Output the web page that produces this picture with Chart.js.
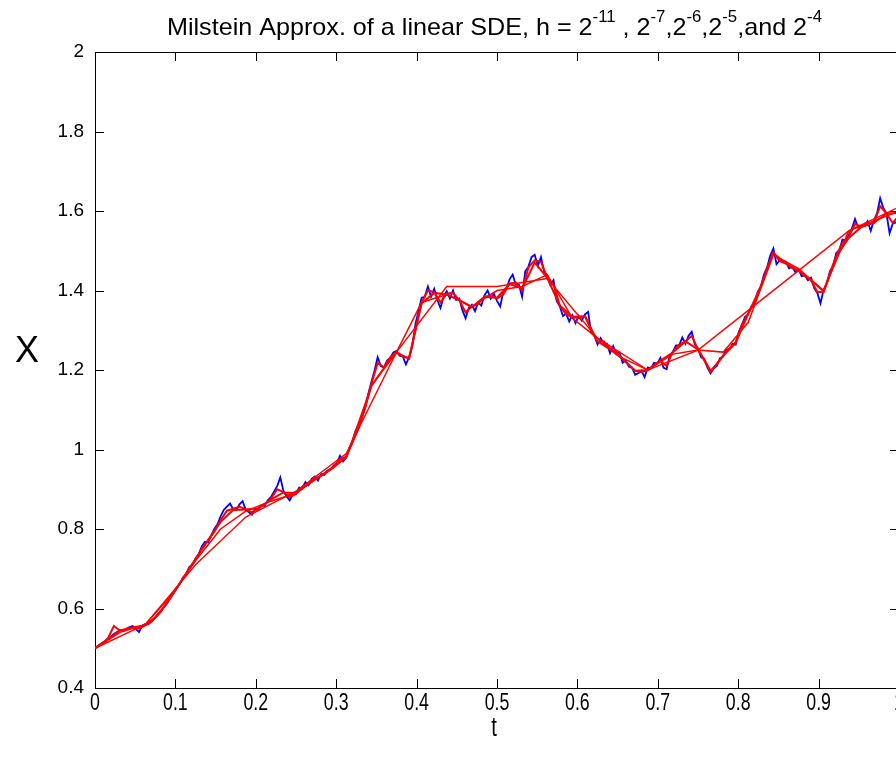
<!DOCTYPE html>
<html>
<head>
<meta charset="utf-8">
<script src="https://cdn.jsdelivr.net/npm/chart.js@4.4.1/dist/chart.umd.min.js"></script>
<style>
  html, body { margin: 0; padding: 0; overflow: hidden; background: #fff; }
  #wrap { width: 920px; height: 758px; }
</style>
</head>
<body>
<div id="wrap"><canvas id="myChart" width="920" height="758"></canvas></div>
<script>
// time steps of the five paths
const stepFine = 1 / 256;
const step7 = 1 / 128;
const step6 = 1 / 64;
const step5 = 1 / 32;
const step4 = 1 / 16;

// finest path (blue)
const fineVals = [
  0.500, 0.506, 0.512, 0.516, 0.524, 0.529, 0.536, 0.541, 0.546, 0.543,
  0.549, 0.553, 0.556, 0.548, 0.541, 0.556, 0.561, 0.560, 0.568, 0.575,
  0.586, 0.592, 0.605, 0.613, 0.630, 0.640, 0.652, 0.662, 0.678, 0.686,
  0.704, 0.710, 0.726, 0.736, 0.756, 0.768, 0.766, 0.784, 0.800, 0.812,
  0.832, 0.848, 0.856, 0.864, 0.850, 0.848, 0.862, 0.870, 0.848, 0.842,
  0.836, 0.850, 0.848, 0.860, 0.858, 0.872, 0.880, 0.894, 0.908, 0.930,
  0.896, 0.882, 0.872, 0.886, 0.888, 0.904, 0.902, 0.918, 0.910, 0.926,
  0.932, 0.922, 0.938, 0.936, 0.947, 0.950, 0.960, 0.966, 0.984, 0.970,
  0.980, 1.004, 1.020, 1.048, 1.058, 1.082, 1.106, 1.140, 1.170, 1.198,
  1.232, 1.210, 1.206, 1.224, 1.230, 1.244, 1.248, 1.236, 1.234, 1.214,
  1.232, 1.258, 1.314, 1.348, 1.382, 1.384, 1.410, 1.384, 1.404, 1.376,
  1.356, 1.384, 1.398, 1.380, 1.400, 1.376, 1.380, 1.350, 1.330, 1.356,
  1.364, 1.348, 1.370, 1.362, 1.388, 1.400, 1.380, 1.392, 1.374, 1.360,
  1.396, 1.404, 1.428, 1.440, 1.414, 1.414, 1.384, 1.448, 1.460, 1.484,
  1.490, 1.462, 1.484, 1.448, 1.438, 1.414, 1.426, 1.374, 1.360, 1.336,
  1.342, 1.322, 1.338, 1.318, 1.336, 1.324, 1.340, 1.346, 1.294, 1.286,
  1.264, 1.280, 1.266, 1.266, 1.242, 1.260, 1.240, 1.244, 1.218, 1.224,
  1.208, 1.206, 1.188, 1.192, 1.198, 1.182, 1.206, 1.204, 1.218, 1.216,
  1.230, 1.206, 1.202, 1.236, 1.246, 1.262, 1.262, 1.282, 1.266, 1.286,
  1.296, 1.264, 1.254, 1.232, 1.228, 1.206, 1.192, 1.204, 1.210, 1.230,
  1.234, 1.252, 1.252, 1.266, 1.264, 1.296, 1.314, 1.334, 1.340, 1.360,
  1.368, 1.396, 1.410, 1.440, 1.458, 1.488, 1.506, 1.466, 1.476, 1.474,
  1.472, 1.456, 1.460, 1.446, 1.454, 1.436, 1.438, 1.426, 1.432, 1.406,
  1.394, 1.368, 1.402, 1.418, 1.448, 1.462, 1.494, 1.502, 1.528, 1.526,
  1.540, 1.556, 1.580, 1.558, 1.562, 1.562, 1.574, 1.550, 1.576, 1.594,
  1.632, 1.608, 1.594, 1.544, 1.568, 1.571, 1.584
];

// h = 2^-7
const vals7 = [
  0.500, 0.511, 0.523, 0.556, 0.544, 0.548, 0.553, 0.549, 0.558, 0.567,
  0.585, 0.604, 0.627, 0.651, 0.675, 0.700, 0.724, 0.750, 0.771, 0.793,
  0.822, 0.846, 0.851, 0.856, 0.850, 0.842, 0.852, 0.862, 0.876, 0.900,
  0.893, 0.880, 0.889, 0.906, 0.914, 0.926, 0.935, 0.944, 0.956, 0.975,
  0.982, 1.020, 1.058, 1.104, 1.165, 1.218, 1.207, 1.232, 1.245, 1.234,
  1.230, 1.300, 1.370, 1.400, 1.396, 1.370, 1.392, 1.394, 1.376, 1.345,
  1.360, 1.366, 1.385, 1.386, 1.380, 1.390, 1.418, 1.420, 1.400, 1.458,
  1.476, 1.472, 1.432, 1.416, 1.362, 1.340, 1.333, 1.331, 1.336, 1.302,
  1.270, 1.272, 1.252, 1.246, 1.228, 1.212, 1.198, 1.195, 1.200, 1.212,
  1.224, 1.210, 1.246, 1.264, 1.272, 1.286, 1.252, 1.226, 1.198, 1.214,
  1.236, 1.254, 1.270, 1.314, 1.342, 1.370, 1.410, 1.456, 1.496, 1.474,
  1.468, 1.456, 1.450, 1.436, 1.426, 1.396, 1.396, 1.440, 1.486, 1.520,
  1.534, 1.568, 1.560, 1.566, 1.570, 1.612, 1.594, 1.570, 1.588
];

// h = 2^-6
const vals6 = [
  0.500, 0.522, 0.545, 0.552, 0.558, 0.583, 0.626, 0.676, 0.724, 0.772,
  0.818, 0.848, 0.849, 0.852, 0.874, 0.892, 0.890, 0.914, 0.934, 0.955,
  0.982, 1.055, 1.160, 1.205, 1.244, 1.228, 1.368, 1.394, 1.390, 1.376,
  1.358, 1.384, 1.382, 1.416, 1.405, 1.470, 1.432, 1.362, 1.334, 1.335,
  1.272, 1.252, 1.228, 1.198, 1.200, 1.224, 1.244, 1.272, 1.252, 1.196,
  1.236, 1.268, 1.342, 1.410, 1.494, 1.468, 1.450, 1.426, 1.398, 1.486,
  1.532, 1.560, 1.570, 1.594, 1.595
];

// h = 2^-5
const vals5 = [
  0.500, 0.540, 0.560, 0.630, 0.720, 0.800, 0.845, 0.870, 0.890, 0.935,
  0.980, 1.160, 1.245, 1.370, 1.390, 1.360, 1.400, 1.410, 1.440, 1.330,
  1.280, 1.230, 1.200, 1.240, 1.250, 1.245, 1.320, 1.490, 1.455, 1.400,
  1.550, 1.575, 1.600
];

// h = 2^-4
const vals4 = [
  0.500, 0.560, 0.710, 0.830, 0.895, 0.990, 1.245, 1.410, 1.410, 1.430,
  1.280, 1.200, 1.250, 1.350, 1.450, 1.550, 1.610
];

const xTickLabels = ["0", "0.1", "0.2", "0.3", "0.4", "0.5", "0.6", "0.7", "0.8", "0.9", "1"];

const titleParts = [
  ["Milstein Approx. of a linear SDE, h = 2", false],
  ["-11", true],
  [" , 2", false], ["-7", true],
  [",2", false], ["-6", true],
  [",2", false], ["-5", true],
  [",and 2", false], ["-4", true]
];

function toPoints(vals, h) {
  return vals.map((v, i) => ({ x: i * h, y: v }));
}

const tickLen = 9;

const matlabFrame = {
  id: 'matlabFrame',
  afterDraw(chart) {
    const ctx = chart.ctx;
    const a = chart.chartArea;
    const xs = chart.scales.x;
    const ys = chart.scales.y;
    ctx.save();
    ctx.strokeStyle = '#000';
    ctx.lineWidth = 1;
    ctx.beginPath();
    ctx.moveTo(a.left, a.top + 0.5);
    ctx.lineTo(a.right, a.top + 0.5);
    ctx.moveTo(a.right - 0.5, a.top);
    ctx.lineTo(a.right - 0.5, a.bottom);
    xs.ticks.forEach(t => {
      const px = Math.round(xs.getPixelForValue(t.value)) + 0.5;
      ctx.moveTo(px, a.bottom);
      ctx.lineTo(px, a.bottom - tickLen);
      ctx.moveTo(px, a.top);
      ctx.lineTo(px, a.top + tickLen);
    });
    ys.ticks.forEach(t => {
      const py = Math.round(ys.getPixelForValue(t.value)) + 0.5;
      ctx.moveTo(a.left, py);
      ctx.lineTo(a.left + tickLen, py);
      ctx.moveTo(a.right, py);
      ctx.lineTo(a.right - tickLen, py);
    });
    ctx.stroke();

    // x tick labels, narrow like the original
    ctx.fillStyle = '#000';
    ctx.textAlign = 'center';
    ctx.textBaseline = 'top';
    ctx.font = '24px "Liberation Sans", Arial, sans-serif';
    xs.ticks.forEach((t, i) => {
      const px = xs.getPixelForValue(t.value);
      ctx.save();
      ctx.translate(px, a.bottom + 3);
      ctx.scale(0.74, 1);
      ctx.fillText(xTickLabels[i] ?? String(t.value), 0, 0);
      ctx.restore();
    });

    // axis titles
    ctx.save();
    ctx.translate(xs.getPixelForValue(0.5) - 3, a.bottom + 27);
    ctx.scale(0.75, 1);
    ctx.font = '27px "Liberation Sans", Arial, sans-serif';
    ctx.fillText('t', 0, 0);
    ctx.restore();

    ctx.font = '36px "Liberation Sans", Arial, sans-serif';
    ctx.textBaseline = 'middle';
    ctx.fillText('X', 27, 352);

    // title with superscripts
    const mainFont = '24px "Liberation Sans", Arial, sans-serif';
    const supFont = '16px "Liberation Sans", Arial, sans-serif';
    let total = 0;
    titleParts.forEach(([txt, sup]) => {
      ctx.font = sup ? supFont : mainFont;
      total += ctx.measureText(txt).width;
    });
    const targetW = 655;
    const sx = targetW / total;
    ctx.save();
    ctx.translate(494.5 - targetW / 2, 0);
    ctx.scale(sx, 1);
    ctx.textAlign = 'left';
    ctx.textBaseline = 'alphabetic';
    let cx = 0;
    titleParts.forEach(([txt, sup]) => {
      ctx.font = sup ? supFont : mainFont;
      ctx.fillText(txt, cx, sup ? 22 : 35);
      cx += ctx.measureText(txt).width;
    });
    ctx.restore();
    ctx.restore();
  }
};

const redLine = (vals, h, w) => ({
  data: toPoints(vals, h),
  borderColor: '#ff0000',
  borderWidth: w,
  pointRadius: 0,
  tension: 0,
  fill: false
});

new Chart(document.getElementById('myChart'), {
  type: 'line',
  data: {
    datasets: [
      redLine(vals7, step7, 2),
      redLine(vals6, step6, 2),
      redLine(vals5, step5, 1.5),
      redLine(vals4, step4, 1.4),
      {
        data: toPoints(fineVals, stepFine),
        borderColor: '#0000ff',
        borderWidth: 1.8,
        pointRadius: 0,
        tension: 0,
        fill: false
      }
    ]
  },
  options: {
    responsive: false,
    devicePixelRatio: 1,
    animation: false,
    layout: { padding: { top: 52, right: 21, left: 0, bottom: 0 } },
    plugins: {
      legend: { display: false },
      title: { display: false },
      tooltip: { enabled: false }
    },
    scales: {
      x: {
        type: 'linear',
        min: 0,
        max: 1,
        ticks: { stepSize: 0.1, display: false },
        grid: { display: false, drawTicks: false },
        border: { display: true, color: '#000', width: 1 },
        afterFit(scale) { scale.height = 70; }
      },
      y: {
        type: 'linear',
        min: 0.4,
        max: 2,
        ticks: {
          stepSize: 0.2,
          padding: 11,
          color: '#000',
          font: { family: '"Liberation Sans", Arial, sans-serif', size: 19 },
          callback: (v) => String(Math.round(v * 10) / 10)
        },
        grid: { display: false, drawTicks: false },
        border: { display: true, color: '#000', width: 1 },
        afterFit(scale) { scale.height = undefined; scale.width = 95; }
      }
    }
  },
  plugins: [matlabFrame]
});
</script>
</body>
</html>
